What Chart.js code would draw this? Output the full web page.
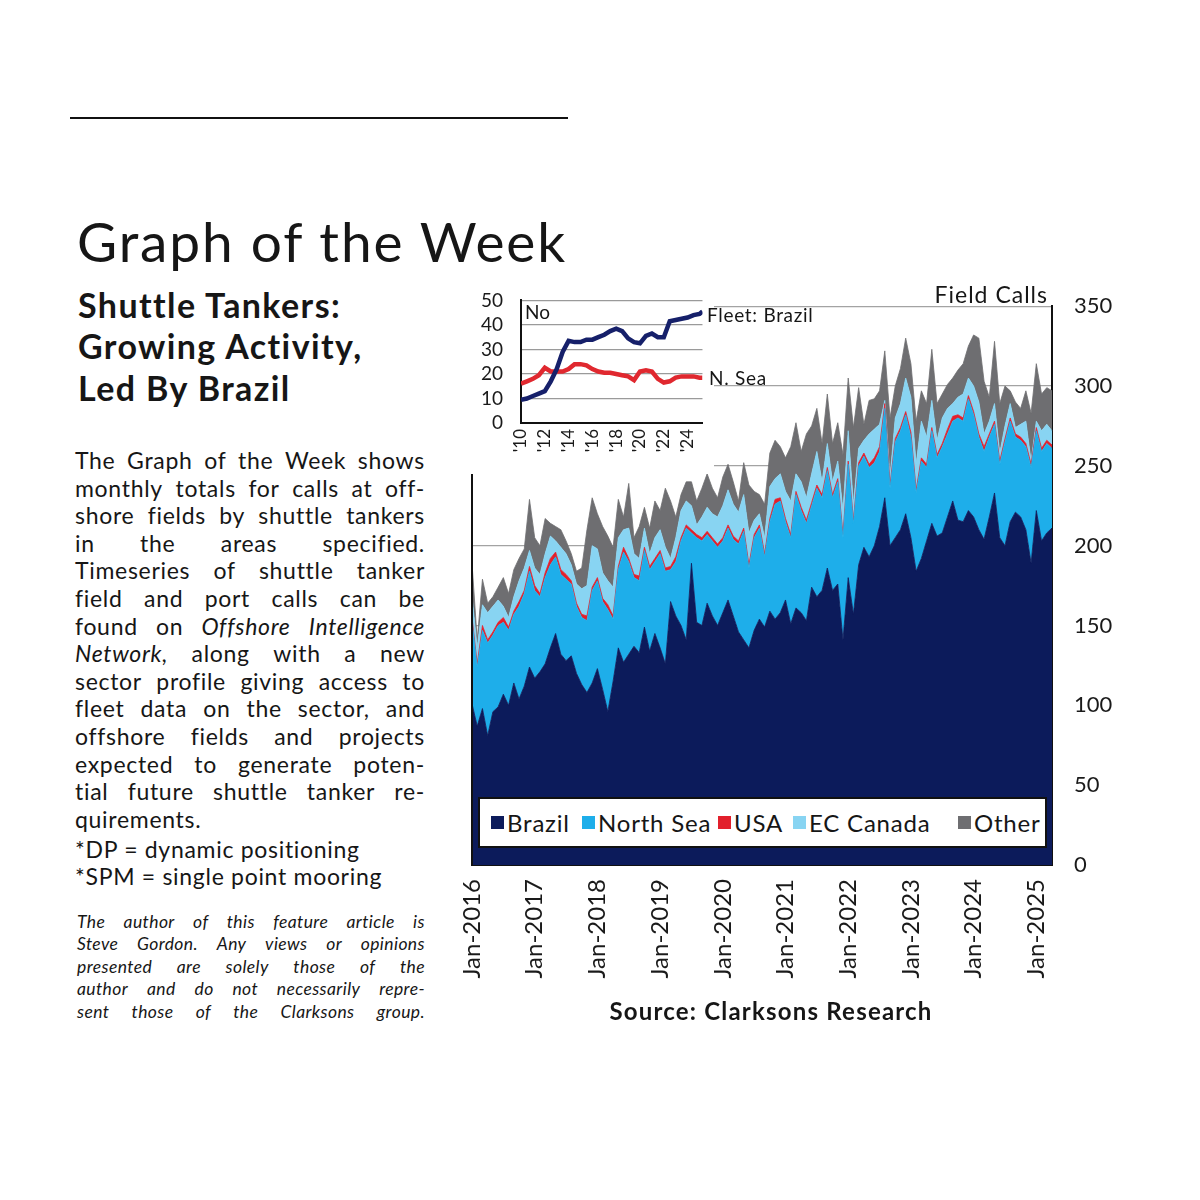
<!DOCTYPE html>
<html>
<head>
<meta charset="utf-8">
<script src="https://cdn.jsdelivr.net/npm/chart.js@4.4.1/dist/chart.umd.min.js"></script>
<style>
html,body{margin:0;padding:0;background:#fff;}
body{width:1200px;height:1200px;position:relative;overflow:hidden;font-family:Lato,'DejaVu Sans',sans-serif;color:#161616;}
.abs{position:absolute;white-space:nowrap;}
#topline{position:absolute;left:70px;top:117px;width:498px;height:2px;background:#111;}
.jl{position:absolute;display:flex;justify-content:space-between;white-space:nowrap;}
.ll{position:absolute;white-space:nowrap;}
#mainWrap{position:absolute;left:456px;top:271px;}
#insetWrap{position:absolute;left:462px;top:271px;background:#fff;}
#legendBox{position:absolute;left:478px;top:797px;width:569px;height:51px;border:2px solid #111;box-sizing:border-box;background:#fff;}
.lg{position:absolute;top:0;height:47px;display:flex;align-items:center;font-size:24px;letter-spacing:0.8px;white-space:nowrap;}
.sw{display:inline-block;width:13px;height:13px;margin-right:3px;}
</style>
</head>
<body>
<div id="topline"></div>
<div class="abs" id="title" style="left:77px;top:208px;font-size:55px;line-height:66px;letter-spacing:1.9px;">Graph of the Week</div>
<div id="textCol"></div>
<div id="mainWrap"><canvas id="main" width="686" height="744"></canvas></div>
<div id="legendBox"></div>
<div id="insetWrap"><canvas id="inset" width="252" height="203"></canvas></div>
<div class="abs" style="left:525px;top:300px;font-size:19px;line-height:23px;">No</div>
<div class="abs" style="left:707px;top:303px;font-size:19px;line-height:23px;letter-spacing:0.7px;">Fleet: Brazil</div>
<div class="abs" style="left:709px;top:366px;font-size:19px;line-height:23px;letter-spacing:0.7px;">N. Sea</div>
<div class="abs" style="right:152px;top:281px;font-size:23px;line-height:26px;letter-spacing:1px;">Field Calls</div>
<div class="abs" style="left:521px;width:500px;text-align:center;top:997px;font-size:24px;line-height:28px;font-weight:700;letter-spacing:1.2px;">Source: Clarksons Research</div>

<script>
// ---------------- main chart data (monthly field calls, Jan-2016 .. Apr-2025) ----------------
const startYear = 2016;
const brazil = [101,87,98,81,96,99,107,100,114,104,112,124,
  117,121,126,136,145,132,128,131,120,113,108,114,
  123,110,96,115,136,127,132,137,133,149,134,145,
  136,126,165,156,150,141,189,152,150,164,156,150,
  158,166,156,146,141,136,147,154,149,159,154,158,
  166,151,161,158,153,174,168,172,186,172,176,141,
  180,157,188,199,193,200,212,230,200,205,210,220,
  205,184,192,203,214,206,208,218,228,216,215,222,
  218,210,204,218,233,205,200,215,221,218,210,189,
  222,203,208,211];
const northSea = [52,37,49,58,48,51,45,47,43,58,58,60,
  55,47,54,52,48,50,51,45,42,42,45,58,
  55,55,64,39,49,69,58,43,45,48,51,45,
  59,58,20,34,53,70,19,53,53,43,47,49,
  45,45,48,55,68,50,58,57,44,56,72,70,
  49,54,71,64,61,51,68,58,61,58,64,64,
  71,57,62,57,56,52,47,56,36,60,62,62,
  63,49,61,46,58,49,54,52,50,64,63,70,
  64,58,55,50,43,46,65,63,47,48,52,60,
  50,56,56,50];
const usa = [2,2,3,2,2,2,3,2,2,3,2,3,
  3,2,3,4,3,3,3,2,2,2,3,2,
  2,2,3,2,2,3,2,2,3,2,2,2,
  2,2,2,3,2,2,2,2,2,2,2,2,
  2,2,2,2,2,2,2,2,2,2,3,2,
  2,2,2,2,2,2,2,2,2,2,2,2,
  2,2,2,2,2,3,3,3,2,2,2,2,
  3,2,2,2,2,2,2,3,3,2,2,2,
  2,2,3,2,2,2,2,2,2,2,2,2,
  2,2,2,2];
const ecCanada = [13,10,13,17,16,14,7,6,9,13,14,10,
  11,12,12,14,7,14,13,10,12,16,19,26,
  18,16,15,18,18,11,19,13,11,12,8,13,
  13,13,5,12,17,15,15,6,13,15,15,17,
  20,22,20,18,21,20,9,7,10,20,13,15,
  17,21,11,16,14,18,21,8,15,8,11,15,
  19,10,9,8,19,18,14,2,5,13,15,21,
  22,16,23,17,17,9,16,13,8,11,15,11,
  16,20,8,8,11,5,8,9,4,8,14,2,
  4,11,10,9];
const other = [21,5,16,6,6,8,18,15,17,14,12,32,
  19,18,22,8,9,11,8,7,8,13,35,30,
  22,29,28,25,24,8,28,10,20,13,16,23,
  12,37,36,13,10,12,15,15,18,21,16,12,
  18,16,14,7,20,30,18,12,21,21,24,17,
  21,34,32,19,40,30,27,24,31,24,24,35,
  33,48,38,10,21,19,21,31,37,20,22,25,
  21,27,19,21,32,23,15,15,16,17,19,20,
  32,40,33,15,39,31,25,8,16,10,19,30,
  36,23,23,25];
const seriesNames = ['Brazil','North Sea','USA','EC Canada','Other'];
const monthNames = ['Jan','Feb','Mar','Apr','May','Jun','Jul','Aug','Sep','Oct','Nov','Dec'];
const categories = brazil.map((_, i) => monthNames[i % 12] + '-' + (startYear + Math.floor(i / 12)));
const yTicksMain = [0,50,100,150,200,250,300,350];

// ---------------- inset data (fleet size, number of vessels) ----------------
const insetYears = [2010,2010.5,2011,2011.5,2012,2012.5,2013,2013.5,2014,2014.5,2015,2015.5,2016,2016.5,2017,2017.5,2018,2018.5,2019,2019.5,2020,2020.5,2021,2021.5,2022,2022.5,2023,2023.5,2024,2024.5,2025,2025.25];
const fleetBrazil = [9.5,10,11,12,13,17,22,29,33.5,33,33,34,34,35,36,37.5,38.5,37.5,34.5,33,32.5,35.5,36.5,35,35,41.5,42,42.5,43,44,44.5,45.5];
const fleetNSea = [16,17,18,19.5,22.5,21,21,21,22,24,24,23.5,22,21,20.5,20.5,20,19.5,19,17.5,21,21.5,21,18,16.5,17,18.5,19,19,19,18.5,18.5];
const insetXTicks = [2010,2012,2014,2016,2018,2020,2022,2024];
const insetYTicks = [0,10,20,30,40,50];

// ---------------- left text column ----------------
const headLines = ['Shuttle Tankers:','Growing Activity,','Led By Brazil'];
const bodyLines = [
  'The Graph of the Week shows',
  'monthly totals for calls at off-',
  'shore fields by shuttle tankers',
  'in the areas specified.',
  'Timeseries of shuttle tanker',
  'field and port calls can be',
  'found on _Offshore _Intelligence',
  '_Network, along with a new',
  'sector profile giving access to',
  'fleet data on the sector, and',
  'offshore fields and projects',
  'expected to generate poten-',
  'tial future shuttle tanker re-',
  'quirements.'
];
const noteLines = ['*DP = dynamic positioning','*SPM = single point mooring'];
const authorLines = [
  'The author of this feature article is',
  'Steve Gordon. Any views or opinions',
  'presented are solely those of the',
  'author and do not necessarily repre-',
  'sent those of the Clarksons group.'
];

const FONT = "Lato, 'DejaVu Sans', sans-serif";
const ASC = 0.987;
const col = document.getElementById('textCol');
function addLine(text, left, baseline, size, opts) {
  opts = opts || {};
  const d = document.createElement('div');
  d.className = opts.justify ? 'jl' : 'll';
  d.style.left = left + 'px';
  d.style.top = (baseline - ASC * size - 0.1 * size) + 'px';
  d.style.fontSize = size + 'px';
  d.style.lineHeight = (1.2 * size) + 'px';
  if (opts.ls) d.style.letterSpacing = opts.ls + 'px';
  if (opts.bold) d.style.fontWeight = '700';
  if (opts.italic) d.style.fontStyle = 'italic';
  if (opts.justify) {
    d.style.width = opts.width + 'px';
    text.split(' ').forEach(w => {
      const s = document.createElement('span');
      if (w.startsWith('_')) { s.style.fontStyle = 'italic'; w = w.slice(1); }
      s.textContent = w;
      d.appendChild(s);
    });
  } else {
    d.textContent = text;
  }
  col.appendChild(d);
  if (opts.justify) {
    // keep natural width within the column
    let ls = opts.ls || 0, guard = 0;
    while (d.scrollWidth > opts.width + 1 && guard < 20) {
      ls -= 0.2; d.style.letterSpacing = ls + 'px'; guard++;
    }
  }
}
const headBase = [322, 363, 405];
headLines.forEach((t, i) => addLine(t, 78, headBase[i], 34, {bold: true, ls: 1.4}));
bodyLines.forEach((t, i) => addLine(t, 75, 472 + 27.6 * i, 23, {justify: i < bodyLines.length - 1, width: 350, ls: 0.7}));
noteLines.forEach((t, i) => addLine(t, 75, 861 + 27.2 * i, 23, {ls: 0.7}));
authorLines.forEach((t, i) => addLine(t, 77, 930 + 22.5 * i, 17.5, {italic: true, justify: true, width: 348, ls: 0.4}));

// ---------------- main chart ----------------
const colors = ['#0c1b5b', '#1eaeea', '#e2202c', '#88d4f2', '#6e6e71'];
const seriesData = [brazil, northSea, usa, ecCanada, other];
const frame = {
  id: 'frame',
  afterDatasetsDraw(chart) {
    const {ctx, chartArea: a} = chart;
    ctx.save();
    ctx.strokeStyle = '#111';
    ctx.lineWidth = 2;
    ctx.beginPath();
    ctx.moveTo(a.left, a.top);
    ctx.lineTo(a.left, a.bottom);
    ctx.stroke();
    ctx.restore();
  }
};
const mainChart = new Chart(document.getElementById('main'), {
  type: 'line',
  data: {
    labels: categories,
    datasets: seriesNames.map((name, i) => ({
      label: name,
      data: seriesData[i],
      backgroundColor: colors[i],
      borderColor: colors[i],
      borderWidth: 0.8,
      pointRadius: 0,
      tension: 0,
      fill: i === 0 ? 'origin' : '-1'
    }))
  },
  options: {
    responsive: false, animation: false, devicePixelRatio: 1,
    layout: {padding: {left: 16, top: 14, right: 0, bottom: 0}},
    plugins: {legend: {display: false}, tooltip: {enabled: false}},
    scales: {
      x: {
        grid: {display: false, drawTicks: false},
        border: {display: true, color: '#111', width: 2},
        ticks: {
          autoSkip: false, minRotation: 90, maxRotation: 90, padding: 14,
          color: '#1a1a1a', font: {family: FONT, size: 24},
          callback: function (v, i) { return i % 12 === 0 ? this.getLabelForValue(v) : null; }
        },
        afterFit: s => { s.height = 150; }
      },
      y: {
        position: 'right', stacked: true, min: 0, max: 350,
        afterBuildTicks: s => { s.ticks = yTicksMain.map(v => ({value: v})); },
        ticks: {autoSkip: false, padding: 22, color: '#1a1a1a', font: {family: FONT, size: 22}},
        grid: {color: '#a3a3a3', lineWidth: 1.3, drawTicks: false},
        border: {display: true, color: '#111', width: 2},
        afterFit: s => { s.width = 90; }
      }
    }
  },
  plugins: [frame]
});

// legend built from the chart's datasets
const legendLefts = [491, 582, 718, 793, 958];
const lb = document.getElementById('legendBox');
mainChart.data.datasets.forEach((ds, i) => {
  const it = document.createElement('div');
  it.className = 'lg';
  it.style.left = (legendLefts[i] - 480) + 'px';
  const sw = document.createElement('span');
  sw.className = 'sw';
  sw.style.background = ds.backgroundColor;
  const tx = document.createElement('span');
  tx.textContent = ds.label;
  it.appendChild(sw); it.appendChild(tx);
  lb.appendChild(it);
});

// ---------------- inset chart ----------------
new Chart(document.getElementById('inset'), {
  type: 'line',
  data: {
    datasets: [
      {label: 'Fleet: Brazil', data: insetYears.map((x, i) => ({x, y: fleetBrazil[i]})), borderColor: '#16206a', borderWidth: 4.5, pointRadius: 0, tension: 0},
      {label: 'N. Sea', data: insetYears.map((x, i) => ({x, y: fleetNSea[i]})), borderColor: '#e0282f', borderWidth: 4.5, pointRadius: 0, tension: 0}
    ]
  },
  options: {
    responsive: false, animation: false, devicePixelRatio: 1,
    layout: {padding: {left: 0, top: 16, right: 0, bottom: 0}},
    plugins: {legend: {display: false}, tooltip: {enabled: false}},
    scales: {
      x: {
        type: 'linear', min: 2010, max: 2025.25,
        afterBuildTicks: s => { s.ticks = insetXTicks.map(v => ({value: v})); },
        grid: {display: false, drawTicks: false},
        border: {display: true, color: '#111', width: 2},
        ticks: {autoSkip: false, minRotation: 90, maxRotation: 90, padding: 6, color: '#1a1a1a', font: {family: FONT, size: 17},
          callback: v => "'" + String(v).slice(2)},
        afterFit: s => { s.height = 51; }
      },
      y: {
        min: 0, max: 50,
        afterBuildTicks: s => { s.ticks = insetYTicks.map(v => ({value: v})); },
        grid: {color: '#9a9a9a', lineWidth: 1.2, drawTicks: false},
        border: {display: true, color: '#111', width: 2},
        ticks: {autoSkip: false, padding: 18, color: '#1a1a1a', font: {family: FONT, size: 19}},
        afterFit: s => { s.width = 59; }
      }
    }
  }
});
</script>
</body>
</html>
